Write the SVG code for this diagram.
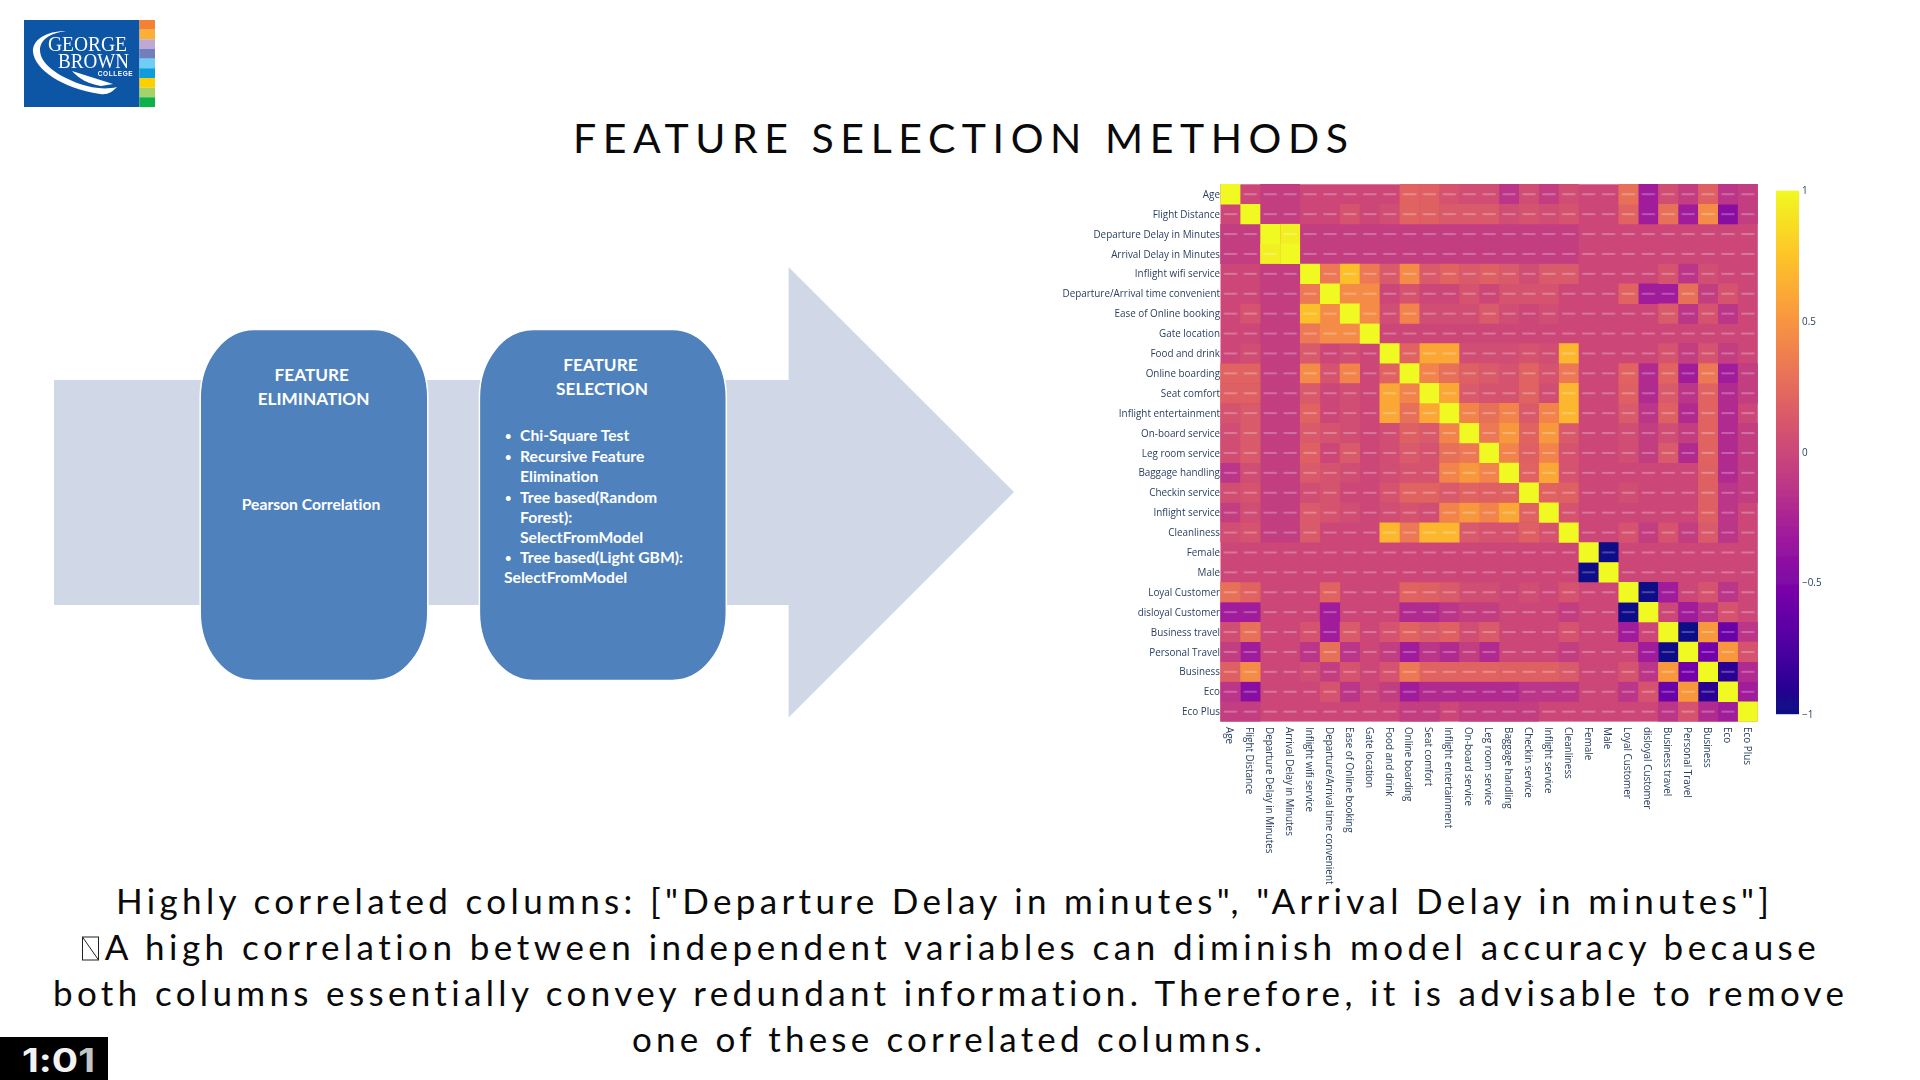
<svg xmlns="http://www.w3.org/2000/svg" width="1920" height="1080" viewBox="0 0 1920 1080">
<style>
text{font-variant-ligatures:none}
.cap{font-family:"Lato","Liberation Sans",sans-serif;font-size:35px;fill:#0a0a0a}
.box{fill:#4f81bd;stroke:#fff;stroke-width:1.5}
.w{font-family:"Lato","Liberation Sans",sans-serif;font-weight:700;fill:#fff}
.t{font-size:17.2px}.s{font-size:15.7px}.b{font-size:11px}
.ax{font-family:"Open Sans","Liberation Sans",sans-serif;font-size:9.9px;fill:#2a3f5f}
.hm path{fill:none;stroke-width:1.02}
.m9{stroke:#0d0887}.m8{stroke:#2c0594}.m6{stroke:#6a00a8}.m5{stroke:#7301a8}.m4{stroke:#8a0da2}.m3{stroke:#a01a9b}.m2{stroke:#b02a8f}.m1{stroke:#bb3488}.m0{stroke:#c33d81}
.p0{stroke:#d04d73}.p1{stroke:#d5536e}.p2{stroke:#d95a6a}.p3{stroke:#de6064}.p4{stroke:#e06362}.p5{stroke:#e77059}.p6{stroke:#ec7854}.p7{stroke:#f1834c}.p8{stroke:#f48c46}.p9{stroke:#f8983e}.q1{stroke:#fba736}.q2{stroke:#fcb72f}.q3{stroke:#fcbf2b}.q4{stroke:#f2f022}.d{stroke:#f0f921}
</style>
<defs>
<filter id="b1" x="-2%" y="-2%" width="104%" height="104%"><feGaussianBlur stdDeviation="0.5"/></filter>
<filter id="b2" x="-2%" y="-2%" width="104%" height="104%"><feGaussianBlur stdDeviation="0.3"/></filter>
<pattern id="dash" patternUnits="userSpaceOnUse" width="1" height="1"><rect x="0.17" y="0.47" width="0.66" height="0.06" fill="#fff" opacity="0.42"/></pattern>
<linearGradient id="plasma" x1="0" y1="0" x2="0" y2="1">
<stop offset="0" stop-color="#f0f921"/><stop offset="0.11" stop-color="#fdca26"/><stop offset="0.22" stop-color="#fb9f3a"/><stop offset="0.33" stop-color="#ed7953"/><stop offset="0.44" stop-color="#d8576b"/><stop offset="0.56" stop-color="#bd3786"/><stop offset="0.67" stop-color="#9c179e"/><stop offset="0.78" stop-color="#7201a8"/><stop offset="0.89" stop-color="#46039f"/><stop offset="1" stop-color="#0d0887"/>
</linearGradient>
</defs>
<rect width="1920" height="1080" fill="#fff"/>

<g id="logo" filter="url(#b2)">
<rect x="24" y="20" width="115.5" height="87" fill="#0f56a5"/>
<rect x="139.5" y="20" width="15.5" height="9.7" fill="#f58233"/>
<rect x="139.5" y="29.7" width="15.5" height="9.7" fill="#fbb034"/>
<rect x="139.5" y="39.3" width="15.5" height="9.7" fill="#bfa8d3"/>
<rect x="139.5" y="49" width="15.5" height="9.7" fill="#7080bf"/>
<rect x="139.5" y="58.7" width="15.5" height="9.7" fill="#6ecff6"/>
<rect x="139.5" y="68.3" width="15.5" height="9.7" fill="#0f9ddb"/>
<rect x="139.5" y="78" width="15.5" height="9.7" fill="#fdd000"/>
<rect x="139.5" y="87.7" width="15.5" height="9.7" fill="#a5d269"/>
<rect x="139.5" y="97.3" width="15.5" height="9.7" fill="#0bb14a"/>
<path fill="#fff" d="M66 31C46 31 32 40 33 52C35 70 62 88 100 94C108 95 112 92 117 87C105 90 92 88 80 84C58 76 40 64 40 50C40 40 50 33 66 31Z"/>
<path fill="#fff" d="M72 71L113 84L101 86C88 84 78 78 72 71Z"/>
<text x="48" y="50.7" font-family="Liberation Serif,serif" font-size="20" fill="#fff" textLength="79" lengthAdjust="spacingAndGlyphs">GEORGE</text>
<text x="58" y="68" font-family="Liberation Serif,serif" font-size="20" fill="#fff" textLength="71" lengthAdjust="spacingAndGlyphs">BROWN</text>
<text x="97.7" y="76" font-family="Liberation Sans,sans-serif" font-weight="700" font-size="6.5" fill="#fff" textLength="35">COLLEGE</text>
</g>

<g id="title"><text class="cap" x="573" y="153" style="font-size:41px" textLength="775">FEATURE SELECTION METHODS</text></g>

<g id="connectors"><polygon points="54,380 788.6,380 788.6,267 1014,492 788.6,717.5 788.6,605 54,605" fill="#d0d8e8"/></g>

<g id="feature-elimination">
<rect class="box" x="200.2" y="329.5" width="227.6" height="351" rx="54" ry="68"/>
<text class="w t" x="311.8" y="380.7" text-anchor="middle">FEATURE</text>
<text class="w t" x="313.6" y="404.7" text-anchor="middle">ELIMINATION</text>
<text class="w s" x="311" y="510" text-anchor="middle">Pearson Correlation</text>
</g>
<g id="feature-selection">
<rect class="box" x="479.4" y="329.5" width="246.9" height="351" rx="54" ry="68"/>
<text class="w t" x="600.4" y="371.3" text-anchor="middle">FEATURE</text>
<text class="w t" x="602" y="395.3" text-anchor="middle">SELECTION</text>
<g class="w s">
<text class="b" x="505" y="440">•</text><text x="520" y="441">Chi-Square Test</text>
<text class="b" x="505" y="460.7">•</text><text x="520" y="461.7">Recursive Feature</text>
<text x="520" y="482.3">Elimination</text>
<text class="b" x="505" y="501.7">•</text><text x="520" y="502.7">Tree based(Random</text>
<text x="520" y="523">Forest):</text>
<text x="520" y="542.7">SelectFromModel</text>
<text class="b" x="505" y="562">•</text><text x="520" y="563">Tree based(Light GBM):</text>
<text x="504" y="583.3">SelectFromModel</text>
</g>
</g>

<g id="heatmap" class="hm" filter="url(#b1)">
<g transform="translate(1220.5 184.3) scale(19.9)">
<rect width="27" height="27" fill="#cc4778"/>
<defs><g id="tri">
<path class="m9" d="M19 18.5h1M21 20.5h1M23 22.5h1"/>
<path class="m8" d="M25 24.5h1"/>
<path class="m6" d="M25 22.5h1"/>
<path class="m5" d="M24 23.5h1"/>
<path class="m4" d="M25 1.5h1"/>
<path class="m3" d="M21 .5h1M21 1.5h1M23 1.5h1M22 5.5h1M21 5.5h1M23 9.5h1M25 9.5h1M22 20.5h1M23 21.5h1M26 25.5h1"/>
<path class="m2" d="M25 10.5h1M25 11.5h1M25 12.5h1M25 13.5h1M25 14.5h1M26 24.5h1M21 9.5h1M21 10.5h1M23 11.5h1M23 13.5h1"/>
<path class="m1" d="M25 .5h1M25 6.5h1M25 15.5h1M25 16.5h1M25 17.5h1M23 4.5h1M23 6.5h1M23 10.5h1M21 11.5h1M14 .5h1M24 21.5h1M25 20.5h1M26 22.5h1"/>
<path class="m0" d="M2 .5h2M2 1.5h2M4 2.5h14M4 3.5h14M16 .5h1M26 .5h1M23 .5h1M26 1.5h1M24 5.5h1M26 9.5h1M23 8.5h1M25 8.5h1M23 12.5h1M23 17.5h1M21 12.5h1M21 13.5h1M21 17.5h1M26 10.5h1M26 12.5h1M26 13.5h1M26 14.5h1M26 15.5h1"/>
<path class="p0" d="M12 .5h1M13 .5h1M17 .5h1M22 .5h1M15 .5h1M8 1.5h1M14 1.5h1M16 1.5h1M8 6.5h1M11 6.5h1M12 6.5h1M14 6.5h1M16 6.5h1M12 8.5h1M20 12.5h1M22 12.5h1M20 13.5h1M16 10.5h1M24 4.5h1M15 4.5h1M10 6.5h1M13 8.5h1M14 8.5h1M16 8.5h1M20 15.5h1"/>
<path class="p1" d="M11 .5h1M17 1.5h1M14 9.5h1M15 8.5h1M24 8.5h1M17 13.5h1M17 14.5h1M17 16.5h1M13 10.5h1M14 10.5h1M16 9.5h1M20 17.5h1M22 17.5h1M9 5.5h1M12 5.5h1M14 5.5h1M15 5.5h1M16 5.5h1M22 8.5h1M6 1.5h1M15 1.5h1M22 4.5h1M25 5.5h1M25 21.5h1M24 20.5h1M26 23.5h1M24 6.5h1"/>
<path class="p2" d="M11 1.5h1M13 1.5h1M8 4.5h1M17 4.5h1M10 4.5h1M12 4.5h1M14 4.5h1M16 4.5h1M13 6.5h1M22 6.5h1M12 10.5h1M13 9.5h1M12 1.5h1M22 10.5h1M22 13.5h1M24 17.5h1M17 12.5h1M15 11.5h1M20 11.5h1"/>
<path class="p3" d="M10 .5h1M10 1.5h1M12 9.5h1M13 4.5h1M20 10.5h1M24 14.5h1M17 15.5h1M24 15.5h1M24 16.5h1M22 11.5h1M13 15.5h1M24 .5h1"/>
<path class="p4" d="M9 .5h1M9 1.5h1M9 8.5h1M16 15.5h1M15 12.5h1M15 14.5h1M20 1.5h1M20 5.5h1M22 9.5h1M24 10.5h1M24 12.5h1M11 4.5h1M15 9.5h1M24 13.5h1M15 10.5h1M24 11.5h1M20 9.5h1"/>
<path class="p5" d="M20 .5h1M13 11.5h1M11 9.5h1M22 1.5h1M23 5.5h1"/>
<path class="p6" d="M7 4.5h1M5 4.5h1M13 12.5h1M17 9.5h1M24 9.5h1"/>
<path class="p7" d="M9 6.5h1M10 9.5h1M12 11.5h1M16 11.5h1M14 11.5h1M14 13.5h1M16 13.5h1"/>
<path class="p8" d="M24 1.5h1M9 4.5h1M6 5.5h1M7 5.5h1M7 6.5h1"/>
<path class="p9" d="M14 12.5h1M16 12.5h1M24 22.5h1M25 23.5h1"/>
<path class="q1" d="M11 8.5h1M11 10.5h1M16 14.5h1M10 8.5h1"/>
<path class="q2" d="M17 10.5h1M17 11.5h1M17 8.5h1"/>
<path class="q3" d="M6 4.5h1"/>
<path class="q4" d="M3 2.5h1"/>
</g></defs>
<use href="#tri"/>
<use href="#tri" transform="matrix(0 1 1 0 0 0)"/>
<rect width="27" height="27" fill="url(#dash)"/>
<path class="d" d="M0 .5h1M1 1.5h1M2 2.5h1M3 3.5h1M4 4.5h1M5 5.5h1M6 6.5h1M7 7.5h1M8 8.5h1M9 9.5h1M10 10.5h1M11 11.5h1M12 12.5h1M13 13.5h1M14 14.5h1M15 15.5h1M16 16.5h1M17 17.5h1M18 18.5h1M19 19.5h1M20 20.5h1M21 21.5h1M22 22.5h1M23 23.5h1M24 24.5h1M25 25.5h1M26 26.5h1"/>
</g>
</g>

<g id="row-labels" class="ax" text-anchor="end" filter="url(#b2)">
<text x="1220" y="197.8">Age</text>
<text x="1220" y="217.7">Flight Distance</text>
<text x="1220" y="237.6">Departure Delay in Minutes</text>
<text x="1220" y="257.5">Arrival Delay in Minutes</text>
<text x="1220" y="277.4">Inflight wifi service</text>
<text x="1220" y="297.3">Departure/Arrival time convenient</text>
<text x="1220" y="317.2">Ease of Online booking</text>
<text x="1220" y="337.1">Gate location</text>
<text x="1220" y="357">Food and drink</text>
<text x="1220" y="376.9">Online boarding</text>
<text x="1220" y="396.8">Seat comfort</text>
<text x="1220" y="416.7">Inflight entertainment</text>
<text x="1220" y="436.6">On-board service</text>
<text x="1220" y="456.5">Leg room service</text>
<text x="1220" y="476.4">Baggage handling</text>
<text x="1220" y="496.3">Checkin service</text>
<text x="1220" y="516.2">Inflight service</text>
<text x="1220" y="536.1">Cleanliness</text>
<text x="1220" y="556">Female</text>
<text x="1220" y="575.9">Male</text>
<text x="1220" y="595.8">Loyal Customer</text>
<text x="1220" y="615.7">disloyal Customer</text>
<text x="1220" y="635.6">Business travel</text>
<text x="1220" y="655.5">Personal Travel</text>
<text x="1220" y="675.4">Business</text>
<text x="1220" y="695.3">Eco</text>
<text x="1220" y="715.2">Eco Plus</text>
</g>
<g id="col-labels" class="ax" filter="url(#b2)">
<text transform="translate(1226.3 727) rotate(90)">Age</text>
<text transform="translate(1246.2 727) rotate(90)">Flight Distance</text>
<text transform="translate(1266.1 727) rotate(90)">Departure Delay in Minutes</text>
<text transform="translate(1286 727) rotate(90)">Arrival Delay in Minutes</text>
<text transform="translate(1305.9 727) rotate(90)">Inflight wifi service</text>
<text transform="translate(1325.8 727) rotate(90)">Departure/Arrival time convenient</text>
<text transform="translate(1345.7 727) rotate(90)">Ease of Online booking</text>
<text transform="translate(1365.6 727) rotate(90)">Gate location</text>
<text transform="translate(1385.5 727) rotate(90)">Food and drink</text>
<text transform="translate(1405.4 727) rotate(90)">Online boarding</text>
<text transform="translate(1425.3 727) rotate(90)">Seat comfort</text>
<text transform="translate(1445.2 727) rotate(90)">Inflight entertainment</text>
<text transform="translate(1465.1 727) rotate(90)">On-board service</text>
<text transform="translate(1485 727) rotate(90)">Leg room service</text>
<text transform="translate(1504.9 727) rotate(90)">Baggage handling</text>
<text transform="translate(1524.8 727) rotate(90)">Checkin service</text>
<text transform="translate(1544.7 727) rotate(90)">Inflight service</text>
<text transform="translate(1564.6 727) rotate(90)">Cleanliness</text>
<text transform="translate(1584.5 727) rotate(90)">Female</text>
<text transform="translate(1604.4 727) rotate(90)">Male</text>
<text transform="translate(1624.3 727) rotate(90)">Loyal Customer</text>
<text transform="translate(1644.2 727) rotate(90)">disloyal Customer</text>
<text transform="translate(1664.1 727) rotate(90)">Business travel</text>
<text transform="translate(1684 727) rotate(90)">Personal Travel</text>
<text transform="translate(1703.9 727) rotate(90)">Business</text>
<text transform="translate(1723.8 727) rotate(90)">Eco</text>
<text transform="translate(1743.7 727) rotate(90)">Eco Plus</text>
</g>
<g id="colorbar" class="ax" filter="url(#b2)">
<rect x="1776" y="190.7" width="23" height="523.5" fill="url(#plasma)"/>
<text x="1802" y="193.5">1</text>
<text x="1802" y="325.2">0.5</text>
<text x="1802" y="456.2">0</text>
<text x="1802" y="586.2">−0.5</text>
<text x="1802" y="717.5">−1</text>
</g>

<g id="caption">
<text class="cap" x="116" y="914" textLength="1653">Highly correlated columns: ["Departure Delay in minutes", "Arrival Delay in minutes"]</text>
<rect x="82.5" y="937" width="16" height="23" fill="none" stroke="#222" stroke-width="1"/>
<path d="M82.5 937L98.5 960" fill="none" stroke="#222" stroke-width="1"/>
<text class="cap" x="104.7" y="960" textLength="1711">A high correlation between independent variables can diminish model accuracy because</text>
<text class="cap" x="53" y="1006" textLength="1791">both columns essentially convey redundant information. Therefore, it is advisable to remove</text>
<text class="cap" x="632" y="1052" textLength="630">one of these correlated columns.</text>
</g>

<g id="timer">
<rect x="0" y="1037" width="108" height="43" fill="#000"/>
<text x="22" y="1071.7" font-family="Inter,Liberation Sans,sans-serif" font-weight="700" font-size="33" fill="#f2f2f2" textLength="73" lengthAdjust="spacingAndGlyphs">1:0<tspan fill="#c4c4c4">1</tspan></text>
</g>
</svg>
